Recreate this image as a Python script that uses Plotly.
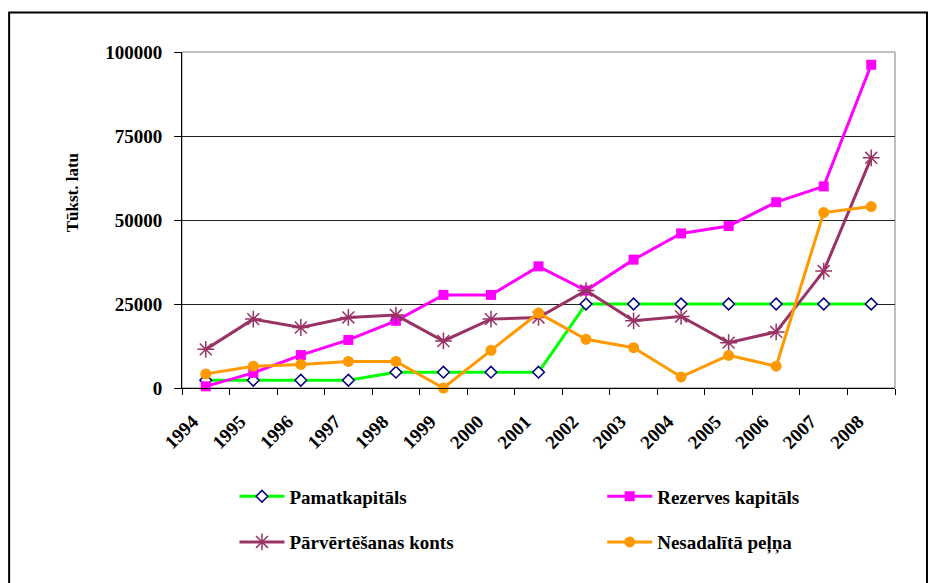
import plotly.graph_objects as go

# Years (category axis)
years = ["1994", "1995", "1996", "1997", "1998", "1999", "2000", "2001",
         "2002", "2003", "2004", "2005", "2006", "2007", "2008"]

# Values, thousand lats
pamatkapitals = [2300, 2300, 2300, 2300, 4700, 4700, 4700, 4700,
                 25000, 25000, 25000, 25000, 25000, 25000, 25000]
rezerves_kapitals = [500, 4500, 9800, 14300, 20000, 27700, 27700, 36200,
                     29000, 38200, 46000, 48200, 55300, 60000, 96200]
parvertesanas_konts = [11500, 20500, 18000, 21000, 21700, 14000, 20500, 21000,
                       29000, 20000, 21300, 13500, 16700, 34800, 68500]
nesadalita_pelna = [4200, 6500, 7000, 7900, 7900, 0, 11200, 22300,
                    14500, 12000, 3300, 9700, 6500, 52200, 54000]

y_ticks = [0, 25000, 50000, 75000, 100000]

FONT = "Liberation Serif, serif"

W, H = 931, 583
L, R, T, B = 181.5, 36, 52, 194.5
PW, PH = W - L - R, H - T - B


def px_x(x):
    return (x - L) / PW


def px_y(y):
    return (H - B - y) / PH


def bold(s):
    return "<b>" + s + "</b>"


fig = go.Figure()

fig.add_trace(go.Scatter(
    x=years, y=pamatkapitals, name=bold("Pamatkapitāls"), mode="lines+markers",
    line=dict(color="#00FF00", width=3),
    marker=dict(symbol="diamond", size=9, color="white",
                line=dict(color="#000080", width=1.5)),
    legend="legend", legendgroup="a", cliponaxis=False))

fig.add_trace(go.Scatter(
    x=years, y=rezerves_kapitals, name=bold("Rezerves kapitāls"), mode="lines+markers",
    line=dict(color="#FF00FF", width=3),
    marker=dict(symbol="square", size=10, color="#FF00FF"),
    legend="legend2", legendgroup="b", cliponaxis=False))

fig.add_trace(go.Scatter(
    x=years, y=parvertesanas_konts, name=bold("Pārvērtēšanas konts"), mode="lines+markers",
    line=dict(color="#993366", width=3),
    marker=dict(symbol="asterisk-open", size=14, color="#993366",
                line=dict(color="#993366", width=1.5)),
    legend="legend", legendgroup="c", cliponaxis=False))

fig.add_trace(go.Scatter(
    x=years, y=nesadalita_pelna, name=bold("Nesadalītā peļņa"), mode="lines+markers",
    line=dict(color="#FF9900", width=3),
    marker=dict(symbol="circle", size=11, color="#FF9900"),
    legend="legend2", legendgroup="d", cliponaxis=False))

# Plot-area frame (top/right in grey) and the outer chart border
fig.add_shape(type="rect", xref="paper", yref="paper", x0=0, x1=1, y0=0, y1=1,
              line=dict(color="#808080", width=1), layer="below")
fig.add_shape(type="rect", xref="paper", yref="paper",
              x0=px_x(8.5), x1=px_x(927), y0=px_y(12.5), y1=px_y(600),
              line=dict(color="black", width=2), layer="below")

# Y axis title
fig.add_annotation(text=bold("Tūkst. latu"), xref="paper", yref="paper",
                   x=px_x(72), y=px_y(193), xanchor="center", yanchor="middle",
                   textangle=-90, showarrow=False,
                   font=dict(family=FONT, size=17, color="black"))

legend_common = dict(
    orientation="v", xanchor="left", yanchor="top",
    font=dict(family=FONT, size=19, color="black"),
    bgcolor="rgba(0,0,0,0)", tracegroupgap=18, itemwidth=45,
)

fig.update_layout(
    width=W, height=H,
    margin=dict(l=L, r=R, t=T, b=B),
    paper_bgcolor="white", plot_bgcolor="white",
    showlegend=True,
    legend=dict(x=px_x(234), y=px_y(478), **legend_common),
    legend2=dict(x=px_x(602), y=px_y(478), **legend_common),
    xaxis=dict(
        type="category", range=[-0.5, 14.5], tickson="boundaries",
        tickvals=years, ticktext=[bold(y) for y in years],
        ticks="outside", ticklen=6, tickcolor="black",
        showline=True, linecolor="black", linewidth=1,
        showgrid=False, tickangle=-45,
        ticklabelstandoff=14, ticklabelshift=-13,
        tickfont=dict(family=FONT, size=19, color="black"),
    ),
    yaxis=dict(
        range=[0, 100000], tickvals=y_ticks, ticktext=[bold(str(v)) for v in y_ticks],
        ticks="outside", ticklen=7, tickcolor="black",
        showline=True, linecolor="black", linewidth=1,
        showgrid=True, gridcolor="#222222", gridwidth=1, zeroline=False,
        ticklabelstandoff=8,
        tickfont=dict(family=FONT, size=19, color="black"),
    ),
)

fig.write_html("out.html")
